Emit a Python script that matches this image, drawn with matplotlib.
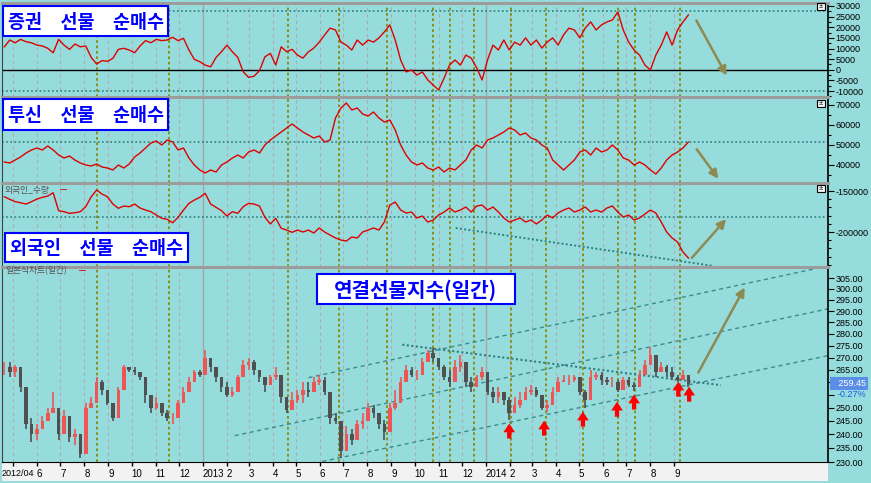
import numpy as np
import pandas as pd
import matplotlib
matplotlib.use('Agg')
import matplotlib.pyplot as plt
import matplotlib.transforms as mtransforms
from matplotlib.patches import Rectangle, FancyArrowPatch
from matplotlib.ticker import MultipleLocator, NullLocator, NullFormatter

plt.rcParams['font.family'] = ['Liberation Sans', 'Noto Sans CJK KR', 'DejaVu Sans']

# weekly samples (Apr 2012 .. Sep 2014)
weeks = pd.date_range('2012-04-20', periods=127, freq='W-FRI')

close = np.array([
    266, 264, 266, 258, 244, 240, 242, 245, 248, 250,
    240, 247, 239, 240, 233, 250, 252, 260, 257, 252,
    246, 257, 266, 265, 264, 262, 255, 250, 252, 248,
    246, 246, 252, 256, 260, 264, 263, 270, 266, 262,
    258, 255, 256, 262, 267, 268, 265, 262, 259, 262,
    263, 254, 249, 253, 255, 257, 256, 260, 261, 256,
    246, 245, 234, 240, 238, 244, 245, 250, 248, 244,
    241, 250, 252, 260, 265, 263, 263, 268, 272, 270,
    266, 262, 260, 266, 268, 260, 258, 262, 264, 256,
    254, 256, 253, 248, 251, 253, 256, 257, 255, 250,
    251, 256, 260, 261, 261, 262, 256, 253, 262, 263,
    261, 260, 260, 257, 261, 259, 258, 263, 267, 271,
    264, 266, 264, 262, 261, 263, 259.45])
high = np.array([
    268, 268, 267, 262, 254, 246, 244, 247, 250, 256,
    248, 249, 244, 242, 237, 252, 254, 262, 261, 256,
    252, 258, 267, 266, 266, 263.5, 259, 254, 254, 252,
    249, 248, 253, 258, 262, 265, 265, 273, 269, 266,
    262, 260, 258, 263, 269, 270, 269, 265, 261, 263,
    266, 260, 254, 256, 257, 260, 260, 262, 263, 262,
    250, 248, 243, 243, 242, 245.5, 248, 252, 251, 247,
    245.5, 252, 257, 262, 267, 266, 265, 270, 273, 274,
    270, 267, 265, 269, 271, 266, 262, 263, 266, 258,
    258, 258, 256, 254, 254, 256, 258, 259, 258, 254,
    253, 258, 262, 263, 263, 263, 259, 257, 265, 264,
    264, 262, 262, 261, 262, 262, 260, 265, 269, 274.5,
    268, 268, 267, 266, 263, 265, 261])
low = np.array([
    263, 262, 262, 256, 242, 237, 238, 242, 245, 249,
    238, 243, 237, 236, 231.5, 245, 250, 258, 255, 251,
    245, 252, 264, 264, 263, 261, 252, 248, 249, 247,
    245, 244, 248, 252, 257, 262, 262, 268, 264, 260,
    256, 254, 254, 258, 265, 265, 263, 260, 256, 260,
    261, 252, 248, 249, 252, 252, 254, 258, 259, 255,
    244, 244, 231.5, 237, 236, 240.5, 242, 245.5, 246, 242,
    238, 244, 249, 255, 262, 262, 261, 265, 269, 268,
    265, 261, 258, 263, 264, 258, 256, 258, 261, 255,
    252, 252, 251, 245.5, 249, 250, 253, 255, 254, 249,
    248.5, 253, 258, 260, 259, 260, 255, 250, 260, 261,
    259, 259, 258, 256, 259, 258, 256.5, 261, 264, 269,
    262, 264, 262, 261, 260, 262, 258])

sec_net = np.array([
    10800, 14000, 12700, 14300, 13200, 12700, 11600, 11200, 10100, 8000,
    14300, 11600, 9600, 12100, 10800, 11200, 5800, 2700, 4300, 4000,
    5400, 9600, 10100, 9300, 8000, 11200, 13700, 12700, 14300, 13700,
    14000, 15300, 13700, 14800, 9300, 4900, 3800, 2200, 1400, 5800,
    8500, 11600, 8500, 5800, -900, -3600, -3000, -400, 6100, 7700,
    2200, 10800, 8500, 9600, 6900, 5500, 8400, 10200, 13000, 16400,
    19600, 18700, 13000, 11600, 9300, 14000, 11600, 14000, 13000, 15000,
    17800, 21100, 14000, 4600, -1000, -100, -2500, -1000, -4800, -7200,
    -9500, -3900, 2200, 4600, 2200, 6900, 5500, 900, -4800, 4600,
    11600, 9300, 14000, 9300, 13000, 11600, 15000, 11600, 14000, 10200,
    13000, 15000, 11600, 16400, 19600, 18700, 15000, 19600, 22500, 18700,
    21100, 22500, 23400, 27200, 18700, 13000, 9300, 6900, 2200, -100,
    6900, 11600, 17800, 11600, 18700, 22500, 25800])

tusin_net = np.array([
    41500, 41000, 42500, 44000, 46000, 47500, 48500, 47500, 49500, 47500,
    45000, 43500, 44500, 42500, 41000, 40000, 39500, 40500, 39000, 38500,
    37500, 40000, 38500, 40500, 44000, 46000, 48500, 51000, 52000, 50000,
    52500, 51500, 47500, 48500, 43500, 40000, 37500, 36000, 37500, 36500,
    40000, 41500, 43500, 45000, 43500, 46500, 47500, 46000, 50000, 52500,
    54500, 56500, 58500, 60500, 58500, 56500, 55000, 53500, 54500, 51500,
    52500, 63500, 68500, 71000, 67500, 68500, 65500, 64500, 66500, 63500,
    61500, 62500, 57500, 50000, 45000, 41500, 40000, 41000, 38500, 37500,
    39000, 36500, 38500, 37500, 40000, 42500, 47500, 50000, 48500, 52500,
    53500, 55000, 56500, 58500, 57500, 55000, 56000, 53500, 52500, 50000,
    48500, 42500, 40000, 37500, 40000, 42500, 46500, 47500, 45000, 48500,
    46500, 47500, 50000, 47500, 43500, 42500, 40000, 41500, 40000, 37500,
    35500, 38500, 42500, 45000, 46500, 48500, 51500])

foreign_net = np.array([
    -157000, -160100, -163000, -164300, -165900, -163000, -159800, -157700, -156100, -152100,
    -174000, -175200, -177200, -176500, -175200, -169100, -157000, -148800, -153700, -157000,
    -165900, -171100, -168300, -169100, -165900, -170700, -173200, -175200, -179300, -183300,
    -184500, -188700, -182100, -173200, -165000, -161000, -157700, -152800, -165900, -169900,
    -174000, -180500, -175200, -177200, -169100, -165000, -165900, -168300, -182100, -190200,
    -183300, -195500, -197600, -200400, -197600, -200000, -197600, -201200, -195100, -200000,
    -203700, -207300, -209800, -211000, -206100, -207300, -200000, -197600, -195100, -197600,
    -187800, -167100, -163400, -173200, -176800, -175600, -182900, -180500, -187800, -185400,
    -179300, -175600, -170700, -175600, -173200, -169500, -175600, -168300, -167100, -173200,
    -169500, -175600, -182900, -187800, -185400, -182900, -187800, -185400, -190200, -185400,
    -179300, -182900, -176800, -173200, -170700, -175600, -173200, -169500, -175600, -173200,
    -175600, -170700, -168300, -175600, -181700, -179300, -185400, -182900, -178000, -173200,
    -176800, -187800, -200000, -207300, -212200, -224400, -231700])

month_ticks = pd.date_range('2012-05-01', '2014-09-01', freq='MS')
event_days = pd.to_datetime(['2012-08-17', '2012-11-18', '2013-04-21', '2013-06-26',
                             '2013-08-27', '2013-10-25', '2013-11-15', '2013-12-16',
                             '2014-02-02', '2014-03-19', '2014-05-06', '2014-06-20',
                             '2014-07-12', '2014-09-08'])
arrow_days = pd.to_datetime(['2014-01-31', '2014-03-17', '2014-05-06', '2014-06-19',
                             '2014-07-11', '2014-09-06', '2014-09-20'])
arrow_prices = [244.0, 245.1, 248.5, 252.3, 255.1, 260.2, 258.2]

# trend lines drawn on the price / foreign panels
chan_lower = (pd.to_datetime(['2013-06-04', '2015-03-18']), [230.2, 270.8])
chan_mid = (pd.to_datetime(['2013-02-11', '2015-03-18']), [239.5, 291.0])
chan_upper = (pd.to_datetime(['2013-05-17', '2015-03-18']), [261.8, 310.8])
resist = (pd.to_datetime(['2013-09-15', '2014-10-31']), [275.4, 258.8])
foreign_trend = (pd.to_datetime(['2013-11-23', '2014-10-22']), [-195100, -241500])

W, H = 871, 483
BG = '#97dcdc'
RED = '#e00000'
TEAL = '#2f7f80'

fig = plt.figure(figsize=(W / 100, H / 100), dpi=100, facecolor=BG)


def pbox(x0, y0, x1, y1):
    # pixel box, origin top-left -> figure fraction rect
    return [x0 / W, 1 - y1 / H, (x1 - x0) / W, (y1 - y0) / H]


def pfig(x, y):
    return (x / W, 1 - y / H)


ax1 = fig.add_axes(pbox(2, 3, 828, 97))
ax2 = fig.add_axes(pbox(2, 97, 828, 183), sharex=ax1)
ax3 = fig.add_axes(pbox(2, 183, 828, 267), sharex=ax1)
ax4 = fig.add_axes(pbox(2, 267, 828, 462), sharex=ax1)
axes = [ax1, ax2, ax3, ax4]

for ax in axes:
    ax.set_facecolor(BG)
    for d in month_ticks:
        if d.month == 1:
            ax.axvline(d, color='#a6a6a6', lw=1.0, zorder=1)
        else:
            ax.axvline(d, color='#b5a7ae', lw=0.8, ls=(0, (3, 3)), zorder=1)
    for d in event_days:
        ax.axvline(d, color='#8a8a0a', lw=1.3, ls=(0, (1.5, 1.5)), zorder=1)
    ax.yaxis.tick_right()
    ax.tick_params(axis='y', which='major', labelsize=6.5, length=4, width=0.8, pad=1.5, colors='black')
    ax.tick_params(axis='y', which='minor', length=2, width=0.8)
    ax.spines['top'].set_color('#9c9c9c')
    ax.spines['top'].set_linewidth(2.2)
    ax.spines['right'].set_color('black')
    ax.spines['right'].set_linewidth(1.2)
    ax.spines['left'].set_color('#404040')
    ax.spines['bottom'].set_visible(False)
    ax.tick_params(axis='x', which='both', bottom=False, labelbottom=False)

# panel 1
ax1.plot(weeks, sec_net, color=RED, lw=1.0, zorder=3)
ax1.axhline(0, color='black', lw=1.0, zorder=2)
ax1.axhline(27500, color=TEAL, lw=1.2, ls=(0, (1, 1.5)), zorder=2)
ax1.axhline(-10000, color=TEAL, lw=1.2, ls=(0, (1, 1.5)), zorder=2)
ax1.set_ylim(-12800, 31400)
ax1.set_yticks(range(-10000, 30001, 5000))
ax1.set_yticklabels([str(v) for v in range(-10000, 30001, 5000)])
ax1.yaxis.set_minor_locator(MultipleLocator(2500))

# panel 2
ax2.plot(weeks, tusin_net, color=RED, lw=1.0, zorder=3)
ax2.axhline(51500, color=TEAL, lw=1.2, ls=(0, (1, 1.5)), zorder=2)
ax2.set_ylim(31000, 74000)
ax2.set_yticks(range(40000, 70001, 10000))
ax2.set_yticklabels([str(v) for v in range(40000, 70001, 10000)])
ax2.yaxis.set_minor_locator(MultipleLocator(5000))

# panel 3
ax3.plot(weeks, foreign_net, color=RED, lw=1.0, zorder=3)
ax3.axhline(-182000, color=TEAL, lw=1.2, ls=(0, (1, 1.5)), zorder=2)
ax3.plot(foreign_trend[0], foreign_trend[1], color=TEAL, lw=1.4, ls=(0, (1, 1.2)), zorder=2)
ax3.set_ylim(-242700, -140200)
ax3.set_yticks([-200000, -150000])
ax3.set_yticklabels(['-200000', '-150000'])
ax3.yaxis.set_minor_locator(MultipleLocator(10000))

# panel 4 : candles
opens = np.r_[close[0], close[:-1]]
colors = np.where(close >= opens, '#ef5555', '#505050')
ax4.set_yscale('log')
ax4.vlines(weeks, low, high, colors=colors, lw=1.2, zorder=3)
ax4.bar(weeks, close - opens, bottom=opens, width=4.6, color=colors, zorder=4)
for line in (chan_lower, chan_mid, chan_upper):
    ax4.plot(line[0], line[1], color='#3b8c8c', lw=1.0, ls=(0, (3, 2.5)), zorder=2)
ax4.plot(resist[0], resist[1], color=TEAL, lw=1.5, ls=(0, (1, 1.2)), zorder=2)
for d, p in zip(arrow_days, arrow_prices):
    ax4.annotate('', xy=(d, p), xytext=(0, -15), textcoords='offset pixels',
                 arrowprops=dict(arrowstyle='simple,head_width=0.6,head_length=0.45,tail_width=0.22',
                                 color='#ff0000', lw=0, shrinkA=0, shrinkB=0,
                                 mutation_scale=14), zorder=6)
ax4.set_ylim(230.2, 310.3)
price_ticks = list(range(230, 306, 5))
ax4.yaxis.set_minor_locator(NullLocator())
ax4.yaxis.set_minor_formatter(NullFormatter())
ax4.set_yticks(price_ticks)
ax4.set_yticklabels(['' if v in (255, 260) else '%.2f' % v for v in price_ticks])

ax4.spines['bottom'].set_visible(True)
ax4.spines['bottom'].set_color('black')
ax4.tick_params(axis='x', which='major', bottom=True, labelbottom=True, length=3,
                width=1, labelsize=7, pad=2)
ax4.set_xticks(month_ticks)
xlabels = []
for i, d in enumerate(month_ticks):
    if i == 0:
        xlabels.append('')
    elif d.month == 1:
        xlabels.append(str(d.year))
    else:
        xlabels.append(str(d.month))
ax4.set_xticklabels(xlabels)
for lbl in ax4.get_xticklabels():
    lbl.set_ha('left')
year_days = [d for d in month_ticks if d.month == 1]
ax4.set_xticks(year_days, minor=True)
ax4.tick_params(axis='x', which='minor', bottom=True, length=18, width=1.2)
ax1.set_xlim(pd.Timestamp('2012-04-17'), pd.Timestamp('2015-03-18'))

# bottom date strip
fig.add_artist(Rectangle(pfig(2, 481), 826 / W, 19 / H, transform=fig.transFigure,
                         fc='#f2f2f2', ec='none', zorder=-1))
fig.text(*pfig(2, 473), '2012/04', fontsize=6.5, va='center', ha='left')

# last price tag
blend = mtransforms.blended_transform_factory(ax4.transAxes, ax4.transData)
ax4.text(1.004, close[-1], '   259.45', transform=blend, ha='left', va='center',
         fontsize=6.5, color='white', bbox=dict(fc='#5b8fe6', ec='none', pad=1.2), clip_on=False)
ax4.annotate('-0.27%', xy=(1.012, close[-1]), xycoords=blend, xytext=(0, -11),
             textcoords='offset pixels', ha='left', va='center', fontsize=6.5, color='#1c5fe0',
             annotation_clip=False)

# panel captions
KR = ['Noto Sans CJK KR', 'DejaVu Sans']
captions = [
    ((3, 6, 168, 36), '증권\u3000선물\u3000순매수', 13.3),
    ((3, 99, 168, 130), '투신\u3000선물\u3000순매수', 13.3),
    ((5, 233, 188, 262), '외국인\u3000선물\u3000순매수', 13.3),
    ((317, 274, 515, 304), '연결선물지수(일간)', 14.5),
]
for (x0, y0, x1, y1), txt, fs in captions:
    fig.add_artist(Rectangle(pfig(x0, y1), (x1 - x0) / W, (y1 - y0) / H,
                             transform=fig.transFigure, fc='white', ec='#0000ff',
                             lw=1.5, zorder=10))
    fig.text(*pfig((x0 + x1) / 2, (y0 + y1) / 2 + 1), txt, family=KR, fontsize=fs,
             fontweight='bold', color='#0000ff', ha='center', va='center', zorder=11)

fig.text(*pfig(5, 190), '외국인_수량', family=KR, fontsize=6.3, color='#555555', va='center')
fig.text(*pfig(60, 189), '━', family=KR, fontsize=5, color='#e00000', va='center')
fig.text(*pfig(5, 271), '일본식차트(일간)', family=KR, fontsize=6.3, color='#555555', va='center')
fig.text(*pfig(79, 270), '━', family=KR, fontsize=5, color='#e00000', va='center')

# small panel buttons
for py in (3, 100, 185):
    fig.add_artist(Rectangle(pfig(817, py + 7), 8 / W, 7 / H, transform=fig.transFigure,
                             fc='#f4f4f4', ec='black', lw=0.8, zorder=10))
    fig.text(*pfig(821, py + 3.5), '±', fontsize=5.5, ha='center', va='center', zorder=11)

# olive direction arrows
OLIVE = '#8d8a52'
for (xa, ya), (xb, yb) in [((695, 18), (728, 78)), ((695, 147), (720, 181)),
                           ((690, 260), (728, 217)), ((697, 375), (746, 285))]:
    fig.add_artist(FancyArrowPatch(pfig(xa, ya), pfig(xb, yb), transform=fig.transFigure,
                                   arrowstyle='-|>', mutation_scale=13, color=OLIVE,
                                   lw=1.8, zorder=9))

fig.savefig('out.png', dpi=100, facecolor=BG)
